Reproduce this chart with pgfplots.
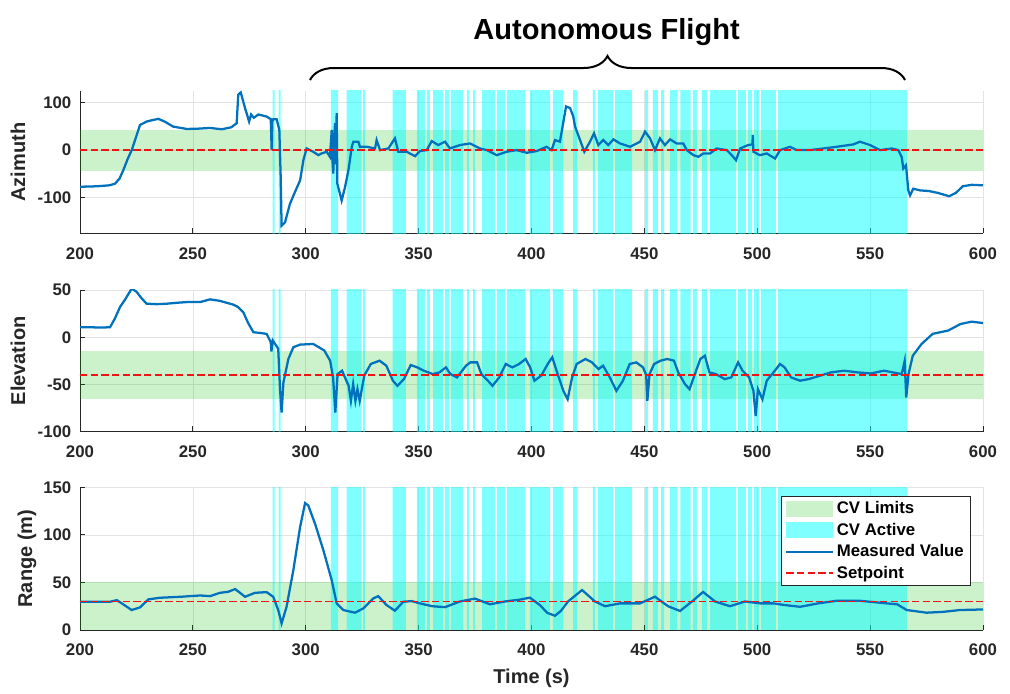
\documentclass[border=0pt]{standalone}
\usepackage{fontspec}
\setmainfont{Liberation Sans}
\usepackage{pgfplots}
\pgfplotsset{compat=1.18}
\usepackage{pgfplotstable}
\usetikzlibrary{decorations.pathreplacing}

\definecolor{mvblue}{RGB}{0,114,189}
\definecolor{limgreen}{RGB}{0,190,0}
\definecolor{cvcyan}{RGB}{0,255,255}
\definecolor{spred}{RGB}{240,20,20}
\definecolor{axgray}{RGB}{38,38,38}

% CV Active intervals (start/end of each band), separated by nan rows
\pgfplotstableread{
x y
285.3 -1000
286.2 -1000
286.2 1000
285.3 1000
nan nan
288.0 -1000
288.9 -1000
288.9 1000
288.0 1000
nan nan
311.1 -1000
314.3 -1000
314.3 1000
311.1 1000
nan nan
318.1 -1000
324.8 -1000
324.8 1000
318.1 1000
nan nan
325.4 -1000
326.2 -1000
326.2 1000
325.4 1000
nan nan
338.5 -1000
344.3 -1000
344.3 1000
338.5 1000
nan nan
349.2 -1000
352.8 -1000
352.8 1000
349.2 1000
nan nan
353.7 -1000
355.0 -1000
355.0 1000
353.7 1000
nan nan
356.4 -1000
360.8 -1000
360.8 1000
356.4 1000
nan nan
361.7 -1000
363.5 -1000
363.5 1000
361.7 1000
nan nan
364.3 -1000
369.7 -1000
369.7 1000
364.3 1000
nan nan
371.4 -1000
372.3 -1000
372.3 1000
371.4 1000
nan nan
374.1 -1000
375.0 -1000
375.0 1000
374.1 1000
nan nan
378.1 -1000
383.8 -1000
383.8 1000
378.1 1000
nan nan
384.7 -1000
388.3 -1000
388.3 1000
384.7 1000
nan nan
389.1 -1000
397.1 -1000
397.1 1000
389.1 1000
nan nan
399.3 -1000
408.2 -1000
408.2 1000
399.3 1000
nan nan
409.5 -1000
414.0 -1000
414.0 1000
409.5 1000
nan nan
418.4 -1000
420.2 -1000
420.2 1000
418.4 1000
nan nan
427.2 -1000
428.1 -1000
428.1 1000
427.2 1000
nan nan
429.4 -1000
436.1 -1000
436.1 1000
429.4 1000
nan nan
437.0 -1000
444.6 -1000
444.6 1000
437.0 1000
nan nan
450.3 -1000
451.6 -1000
451.6 1000
450.3 1000
nan nan
453.8 -1000
456.0 -1000
456.0 1000
453.8 1000
nan nan
457.4 -1000
458.7 -1000
458.7 1000
457.4 1000
nan nan
461.4 -1000
464.5 -1000
464.5 1000
461.4 1000
nan nan
466.0 -1000
470.5 -1000
470.5 1000
466.0 1000
nan nan
471.5 -1000
473.3 -1000
473.3 1000
471.5 1000
nan nan
475.5 -1000
477.7 -1000
477.7 1000
475.5 1000
nan nan
479.1 -1000
490.6 -1000
490.6 1000
479.1 1000
nan nan
491.5 -1000
495.0 -1000
495.0 1000
491.5 1000
nan nan
495.9 -1000
497.7 -1000
497.7 1000
495.9 1000
nan nan
498.6 -1000
500.8 -1000
500.8 1000
498.6 1000
nan nan
501.7 -1000
508.3 -1000
508.3 1000
501.7 1000
nan nan
509.2 -1000
566.3 -1000
566.3 1000
509.2 1000
}\bandtab

\pgfplotstableread{
x y
200 -77
205 -76.5
209 -75.6
213 -74
215.5 -70.6
217.5 -60
219.2 -42
221 -20
222.9 0
225 30
226.6 53
229.5 60
232 63
234.7 65.7
237.5 60
241.3 49.4
247.3 44.5
252 45
257.6 46.6
262.8 43.8
267 48
269.4 56.5
270.1 116.5
271.2 121.4
272.3 102.3
273.3 85
273.8 77.7
274.9 60
275.8 74.9
277 68
279 74.9
282.7 70.6
284.5 65
284.9 0
285.2 60
285.6 65
287.1 65
288.3 42.4
288.9 -56.5
289.3 -159
290.8 -152
293 -113
295.2 -88.3
297.5 -63.6
299 -20
300.4 3.5
303.3 -3.5
305.6 -10.6
307 -7
309.3 -3.5
310.7 -14
311.2 20
311.5 42.4
311.8 -20
312.2 -49.4
312.6 30
313 56.5
313.3 -30
313.7 77.7
314 -70.6
315.9 -106
317.4 -77.7
318.9 -42.4
320.4 7
321.1 17.7
323.3 17.7
324 7
327 7
330.7 3.5
331.4 21.2
332.9 0
336.6 3.5
339.5 24.7
341 -3.5
344.7 -3.5
348.4 -12.7
350.6 -2
353.6 0
355.8 19
358.7 10.6
361.7 17.7
363.9 3.5
368.3 10.6
372.8 14
377.2 3.5
380.2 0
384.6 -10.6
389 -3.5
393.4 0
397.9 -5.6
402.3 -2
406.7 7
408.9 0
410.4 21.2
412.6 17.7
415.3 91.8
417.1 88.3
418.5 70.6
419.3 49.4
421.5 21.2
423.4 -3.5
425.9 17.7
427.7 35.3
429.6 10.6
431.8 21.2
434 10.6
436.3 22.6
439.2 14
443.7 7
448.1 17.7
450.3 38.8
452.5 24.7
454.7 0
456.9 24.7
459.1 10.6
461.4 22.6
464.3 14
467.2 14
468.8 0
471.7 -10.6
473.9 -14
476.1 -7
479.1 -7
482 3.5
486.5 0
488.7 -10.6
490.6 -21.2
492.4 3.5
496 10.6
497.9 12
498 31.8
498.3 -3.5
501.2 -10.6
504.2 -7
507.9 -17.7
510.1 0
514.5 7
517.5 0
523.4 0
529.3 3.5
535.2 7
542.5 12
545.5 17.7
550 10.6
554.4 0
559.6 3.5
562.5 0
564 -15
564.7 -38.8
565.9 -31.8
566.9 -84.7
567.7 -95.3
569.1 -81.1
572.1 -84.7
576 -86
580 -90
585 -97
588 -90
591 -76
595 -73
600 -74
}\aztab

\pgfplotstableread{
x y
200 10.6
205 10.5
210 10.3
213.3 10.6
215.5 20
217.7 31.9
220 40
222.9 51.5
225.1 48
227 42
229.5 35.5
234 35
238.4 35.5
243 36.5
247.3 37.2
253.2 37.2
257.6 40.1
262 38.5
267.9 34.5
270 32
272.3 26.6
274.5 15
276.8 5.3
280 4.5
282.7 3.5
284.5 -5.3
284.8 -15.2
285.4 -3.5
287.8 -12
288.6 -54.9
289.3 -79.8
290.1 -47.9
292.3 -23
294.5 -10.6
297.5 -7.8
303.3 -7.1
308.2 -14
310.8 -24.8
312.1 -42.5
313.1 -79.8
314.1 -39
316.1 -35.4
318 -46
319 -51.4
320 -67.3
321 -49.6
322 -67.3
322.9 -55
323.9 -67.3
325.9 -40.7
328.8 -28.3
332.7 -24.8
335.7 -30.1
338.6 -46
340.6 -51.4
343.5 -44.3
346.5 -29.4
349.4 -31.9
352.3 -35.4
356.3 -39
359.2 -37.2
362.1 -31.9
364.1 -39
367 -42.5
371 -30.1
372.9 -26.6
375.9 -26.6
377.8 -39
380.7 -46
382.7 -51.4
385.7 -42.5
388.6 -28.3
391.5 -31.9
394.5 -28.3
397.4 -23
399.4 -31.9
401.3 -46
404.3 -40.7
407.2 -28.3
409.2 -21.2
411.1 -35.4
414.1 -56.7
416 -65.6
418 -42.5
420 -28.3
423.9 -23
426.8 -26.6
429.7 -33.7
431.7 -30.1
434.7 -42.5
437.6 -56.7
440.5 -46
443.5 -28.3
446.4 -26.6
449.4 -31.9
450.8 -40
451.3 -67.3
452.3 -39
454.3 -28.3
457.2 -24.8
460.1 -23
463.1 -24.8
465 -37.2
468 -49.6
470 -55
472.9 -35.4
474.8 -23
476.8 -19.5
478.8 -37.2
481.7 -39
485.6 -44.3
488.5 -42.5
491.5 -26.6
493.5 -35.4
496.4 -42.5
498.3 -56.7
499.3 -83.3
500.3 -55
502.3 -65.6
504.2 -46
507.2 -37.2
510.1 -28.3
512.1 -31.9
515 -42.5
518.9 -46
522.8 -44.3
527.8 -40.7
532.6 -37.2
538.5 -35.4
544.4 -37.2
550.3 -38.3
556.2 -35.4
560.1 -37.2
564 -39
565.3 -25
566 -63.8
567 -39
568.9 -19.5
572.8 -7.1
577.7 3.6
584.6 7.1
590 14
595 16.5
600 15
}\eltab

\pgfplotstableread{
x y
200 29.7
213.3 29.7
216.3 31.4
218.5 28
222.9 21
226.6 23.8
230.3 32.2
235.4 33.9
244.3 34.9
253.2 36.3
257.6 35.6
262 39.1
265.7 40.2
268.7 43
270.9 39.1
273.1 34.9
277.5 39.1
282.7 39.8
285.6 34.9
287.8 21
289.3 7
291.5 24.4
294.5 62.9
297.5 108.3
299.7 133.4
301.1 131
304.1 111.8
307.8 83.9
311.5 52.4
313.7 28
316.6 21
321.8 18.2
325.5 22.7
329.9 33.2
332.1 35.6
335.8 26.2
339.5 20.3
343.2 29.7
346.9 30.4
350.6 28
356 25
361.7 24
368.3 30
375 33
381.6 27
388.3 30
395 32
399.3 34
403.8 26
407 18
410.4 15
413 20
416.2 30
422.4 42
428.1 30
432.6 25
439.2 28
448.1 28
454.7 35
460.5 25
465.8 20
471.1 30
476 40
481.3 30
487.9 25
494.6 30
501.2 28
507 28
513 26
519 24.4
527 28
535 30.7
545.5 30.7
557.3 28
562 27
566.2 21
575 18.2
582 19
589.8 21
600 21.6
}\rgtab

\pgfplotsset{
  panel/.style={
    scale only axis, width=677.25pt,
    xmin=200, xmax=600, xtick={200,250,...,600},
    axis lines*=left,
    axis line style={axgray, line width=0.6pt},
    tick style={axgray, line width=0.6pt},
    major tick length=4pt,
    grid=major, major grid style={gray!22, line width=0.5pt},
    ticklabel style={font=\fontsize{12.6}{15}\selectfont\bfseries, text=axgray},
    /pgf/number format/assume math mode=true,
    xticklabel style={yshift=-7pt},
    yticklabel style={xshift=-3pt},
    label style={font=\fontsize{15}{18}\selectfont\bfseries, text=axgray},
  },
  limfill/.style={draw=none, fill=limgreen, fill opacity=0.2,
    legend image code/.code={\fill[##1] (0pt,-6pt) rectangle (35pt,6pt);}},
  bandfill/.style={draw=none, fill=cvcyan, fill opacity=0.5, unbounded coords=jump,
    legend image code/.code={\fill[##1] (0pt,-6pt) rectangle (35pt,6pt);}},
  mvline/.style={color=mvblue, line width=1.7pt, no marks, solid,
    legend image code/.code={\draw[##1] (0pt,0pt) -- (35pt,0pt);}},
  setline/.style={color=spred, line width=1.25pt, dash pattern=on 5.5pt off 2.5pt, no marks,
    legend image code/.code={\draw[##1] (0pt,0pt) -- (35pt,0pt);}},
}

\begin{document}
\begin{tikzpicture}
\useasboundingbox (0,0) rectangle (757.5pt,-519.75pt);

\node[anchor=base, font=\fontsize{21.8}{26}\selectfont\bfseries] at (454.9pt,-29.25pt) {Autonomous Flight};
\draw[decorate, decoration={brace, amplitude=18pt}, line width=1.5pt] (232.5pt,-60pt) -- (678.75pt,-60pt);

% Azimuth
\begin{axis}[panel, at={(60pt,-175pt)}, anchor=south west, height=107pt,
  ymin=-175, ymax=125, ytick={-100,0,100},
  ylabel={Azimuth}, ylabel style={at={(axis description cs:-0.0687,0.5)}, anchor=center}]
\addplot[limfill] coordinates {(200,-43) (600,-43) (600,43) (200,43)};
\addplot[bandfill] table {\bandtab};
\addplot[mvline] table {\aztab};
\addplot[setline] coordinates {(200,0) (600,0)};
\end{axis}

% Elevation
\begin{axis}[panel, at={(60pt,-323.8pt)}, anchor=south west, height=106.3pt,
  ymin=-100, ymax=50, ytick={-100,-50,0,50},
  ylabel={Elevation}, ylabel style={at={(axis description cs:-0.0687,0.5)}, anchor=center}]
\addplot[limfill] coordinates {(200,-65) (600,-65) (600,-15) (200,-15)};
\addplot[bandfill] table {\bandtab};
\addplot[mvline] table {\eltab};
\addplot[setline] coordinates {(200,-40) (600,-40)};
\end{axis}

% Range
\begin{axis}[panel, at={(60pt,-472.5pt)}, anchor=south west, height=107pt,
  ymin=0, ymax=150, ytick={0,50,100,150},
  ylabel={Range (m)}, ylabel style={at={(axis description cs:-0.0587,0.5)}, anchor=center},
  xlabel={Time (s)}, xlabel style={at={(axis description cs:0.5,-0.378)}, anchor=base},
  legend style={at={(0.9864,0.939)}, anchor=north east,
    font=\fontsize{12.6}{15}\selectfont\bfseries,
    draw=axgray, cells={anchor=west}, row sep=1.5pt}]
\addplot[limfill] coordinates {(200,0) (600,0) (600,50) (200,50)};
\addlegendentry{CV Limits}
\addplot[bandfill] table {\bandtab};
\addlegendentry{CV Active}
\addplot[mvline] table {\rgtab};
\addlegendentry{Measured Value}
\addlegendimage{setline}
\addlegendentry{Setpoint}
\end{axis}

% Range setpoint, in an overlay axis with the same mapping of y = 30
\begin{axis}[scale only axis, width=677.25pt, height=214pt,
  at={(60pt,-579.5pt)}, anchor=south west,
  xmin=200, xmax=600, ymin=-150, ymax=150, hide axis]
\addplot[setline] coordinates {(200,30) (600,30)};
\end{axis}
\end{tikzpicture}
\end{document}
